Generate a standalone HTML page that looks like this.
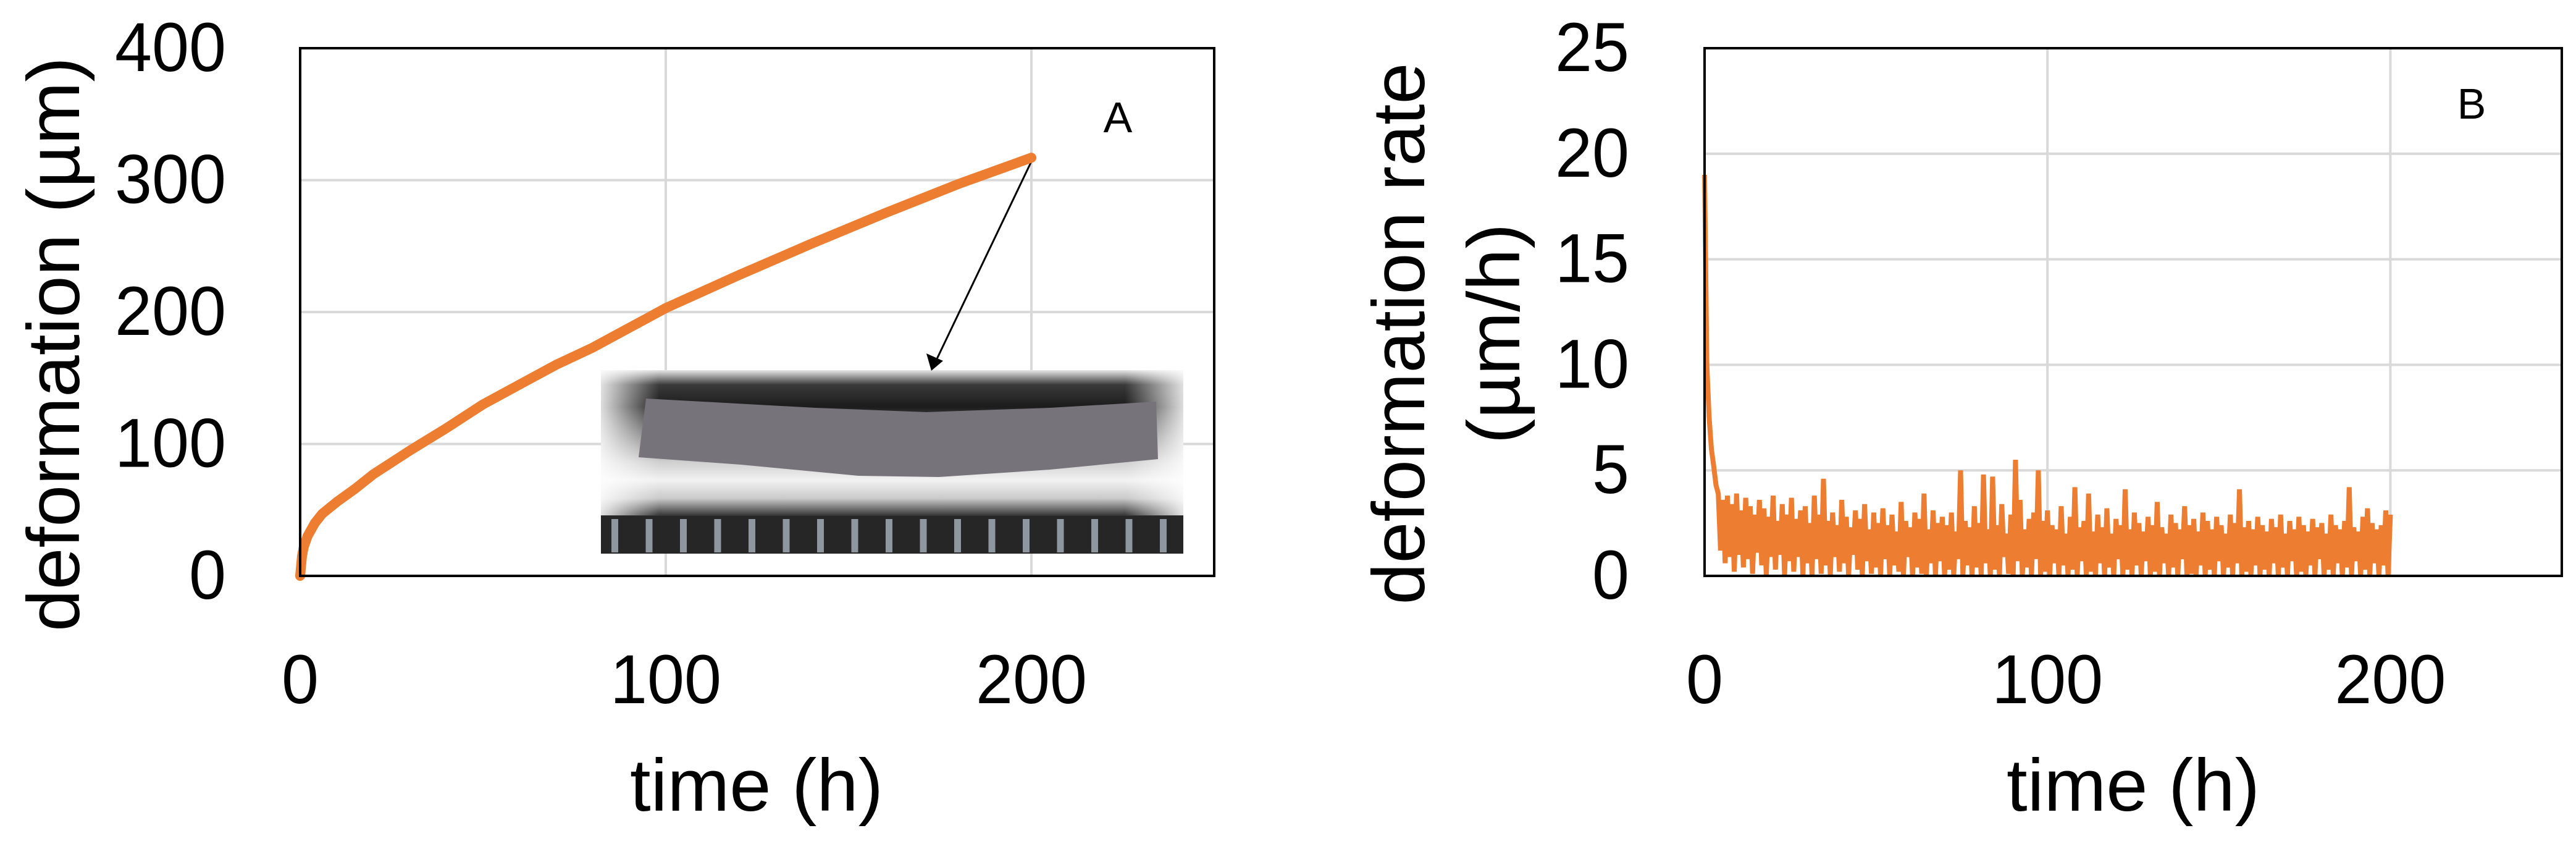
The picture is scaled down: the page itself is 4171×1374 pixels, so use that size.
<!DOCTYPE html>
<html><head><meta charset="utf-8">
<style>
html,body{margin:0;padding:0;background:#fff;}
svg{display:block;font-family:"Liberation Sans","DejaVu Sans",sans-serif;}
</style></head>
<body>
<svg id="fig" width="4171" height="1374" viewBox="0 0 4171 1374" xmlns="http://www.w3.org/2000/svg">
<defs>
<linearGradient id="bgv" x1="0" y1="0" x2="0" y2="1">
<stop offset="0" stop-color="#e6e6e6"/><stop offset="0.08" stop-color="#3a3a3a"/><stop offset="0.2" stop-color="#1c1c1c"/><stop offset="0.5" stop-color="#cfcfcf"/><stop offset="0.6" stop-color="#f2f2f2"/><stop offset="0.7" stop-color="#c9c9c9"/><stop offset="0.8" stop-color="#2a2a2a"/><stop offset="1" stop-color="#222"/>
</linearGradient>
<linearGradient id="bgh" x1="0" y1="0" x2="1" y2="0">
<stop offset="0" stop-color="#fff" stop-opacity="0.85"/><stop offset="0.1" stop-color="#fff" stop-opacity="0"/><stop offset="0.9" stop-color="#fff" stop-opacity="0"/><stop offset="1" stop-color="#fff" stop-opacity="0.85"/>
</linearGradient>
</defs>
<g id="chartA"></g>
<g id="chartB"></g>
</svg>
<script>
// ---- Chart A data ----
const timeA = [0,0.5,1,2,4,6,10,15,20,30,40,50,60,70,80,90,100,120,140,160,180,200];
const deformA = [0,15,22,30,40,47,56,66,77,95,112,130,145,160,173,188,203,228,252,275,297,317];
const yTicksA = [0,100,200,300,400];
const xTicksA = [0,100,200];
// ---- Chart B data (deformation rate, uniform time step over 0..200 h) ----
const rateB = [
19,10,7.5,6,5.2,4.3,3.9,1.2,3.6,0.6,3.8,0.9,3.4,0.2,3.9,1.0,3.1,0.4,3.7,0.8,
3.3,0.1,2.9,1.1,3.6,0.5,3.2,0.0,2.8,0.9,3.8,0.3,2.6,1.0,3.4,0.0,2.9,0.7,3.7,0.2,
2.7,0.9,3.1,0.0,3.3,0.6,2.5,0.0,3.8,0.8,2.9,0.1,4.6,0.5,2.6,0.0,3.0,0.9,2.4,0.2,
3.6,0.6,2.8,0.0,2.3,1.0,3.1,0.3,2.7,0.0,3.4,0.7,2.2,0.1,3.0,0.4,2.5,0.0,3.2,0.8,
2.4,0.0,2.9,0.5,2.1,0.2,3.5,0.0,2.6,0.9,2.3,0.0,3.0,0.4,2.7,0.1,3.9,0.0,2.2,0.6,
3.1,0.0,2.5,0.7,2.8,0.0,2.4,0.3,3.0,0.0,2.1,0.8,5.0,0.0,2.6,0.5,2.3,0.0,3.3,0.4,
2.5,0.0,4.8,0.6,2.2,0.0,4.7,0.3,2.4,0.0,3.4,0.9,2.0,0.1,2.9,0.0,5.5,0.7,3.6,0.0,
2.2,0.4,2.7,0.0,3.0,0.8,5.0,0.0,2.6,0.2,3.1,0.0,2.4,0.6,2.2,0.0,3.3,0.5,2.0,0.0,
2.8,0.3,4.2,0.0,2.3,0.7,2.6,0.0,3.9,0.2,2.1,0.0,2.9,0.6,2.3,0.0,3.2,0.4,2.0,0.0,
2.7,0.8,2.4,0.0,4.1,0.3,2.2,0.0,3.0,0.5,2.5,0.0,2.1,0.7,2.8,0.0,2.4,0.2,3.5,0.0,
2.3,0.6,2.0,0.0,2.9,0.4,2.5,0.0,2.2,0.8,3.3,0.0,2.4,0.1,2.7,0.0,2.1,0.5,3.0,0.0,
2.6,0.3,2.2,0.0,2.8,0.7,2.4,0.0,2.0,0.4,2.9,0.0,2.5,0.6,4.1,0.0,2.3,0.2,2.6,0.0,
2.2,0.5,2.8,0.0,2.4,0.3,2.1,0.0,2.7,0.6,2.3,0.0,2.9,0.4,2.0,0.0,2.6,0.7,2.2,0.0,
2.8,0.2,2.4,0.0,2.1,0.5,2.7,0.0,2.3,0.8,2.5,0.0,2.0,0.3,2.9,0.0,2.4,0.6,2.2,0.0,
2.6,0.4,4.2,0.0,2.3,0.7,2.1,0.0,2.8,0.3,3.2,0.0,2.5,0.6,2.2,0.0,2.4,0.5,3.1,0.0,
2.9];
const tEndB = 200;
const yTicksB = [0,5,10,15,20,25];
const xTicksB = [0,100,200];

const NS = "http://www.w3.org/2000/svg";
function mk(parent, tag, attrs, text){
  const e = document.createElementNS(NS, tag);
  for (const k in attrs) e.setAttribute(k, attrs[k]);
  if (text !== undefined) e.textContent = text;
  parent.appendChild(e);
  return e;
}
const plotTop = 78, plotBot = 932;
function tlen(s){ return s.length * 60; }

function frame(g, left, right, xmax, ymax, xTicks, yTicks, labelRight){
  const sx = v => left + (v / xmax) * (right - left);
  const sy = v => plotBot - (v / ymax) * (plotBot - plotTop);
  yTicks.forEach(v => {
    if (v > 0 && v < ymax) {
      const l = mk(g, 'line', {x1:left, x2:right, y1:sy(v), y2:sy(v), stroke:'#d9d9d9', 'stroke-width':4});
      
      
    }
    const s = String(v);
    const t = mk(g, 'text', {x:labelRight, y:sy(v)+37, 'text-anchor':'end', 'font-size':112, fill:'#000', textLength:tlen(s), lengthAdjust:'spacingAndGlyphs'}, s);
    
    
  });
  xTicks.forEach(v => {
    if (v > 0) {
      const l = mk(g, 'line', {x1:sx(v), x2:sx(v), y1:plotTop, y2:plotBot, stroke:'#d9d9d9', 'stroke-width':4});
      
      
    }
    const s = String(v);
    const t = mk(g, 'text', {x:sx(v), y:1138, 'text-anchor':'middle', 'font-size':112, fill:'#000', textLength:tlen(s), lengthAdjust:'spacingAndGlyphs'}, s);
    
    
  });
  return {sx, sy};
}
function border(g, left, right){
  const r = mk(g, 'rect', {x:left, y:plotTop, width:right-left, height:plotBot-plotTop, fill:'none', stroke:'#000', 'stroke-width':4});
  
  
}

// ---------- Chart A ----------
const gA = document.getElementById('chartA');
const A = frame(gA, 486, 1966, 250, 400, xTicksA, yTicksA, 366);
const inset = mk(gA, 'g', {});


mk(inset, 'rect', {x:973, y:599, width:943, height:297, fill:'url(#bgv)'});
mk(inset, 'rect', {x:973, y:599, width:943, height:235, fill:'url(#bgh)'});
mk(inset, 'rect', {x:973, y:835, width:943, height:61, fill:'#262626'});
for (let i = 0; i < 17; i++) {
  mk(inset, 'rect', {x:990 + i*55.5, y:840, width:11, height:54, fill:'#9aa3ad', opacity:0.9});
}
mk(inset, 'path', {d:'M1046 645 L1320 660 L1500 667 L1700 660 L1872 650 L1875 743 L1700 760 L1520 772 L1390 770 L1200 752 L1034 740 Z', fill:'#77737a'});
const arr = mk(gA, 'line', {x1:1673, y1:255, x2:1515, y2:585, stroke:'#000', 'stroke-width':3});


const ah = mk(gA, 'path', {d:'M1508 600 L1500 572 L1527 584 Z', fill:'#000'});


let dA = '';
timeA.forEach((t, i) => { dA += (i ? 'L' : 'M') + A.sx(t).toFixed(1) + ' ' + A.sy(deformA[i]).toFixed(1) + ' '; });
const lineA = mk(gA, 'path', {d:dA, fill:'none', stroke:'#ED7D31', 'stroke-width':16, 'stroke-linecap':'round', 'stroke-linejoin':'round'});


border(gA, 486, 1966);
const tA = mk(gA, 'text', {x:1810, y:214, 'text-anchor':'middle', 'font-size':70, fill:'#000'}, 'A');


const xtA = mk(gA, 'text', {x:1225, y:1312, 'text-anchor':'middle', 'font-size':120, fill:'#000', textLength:410, lengthAdjust:'spacingAndGlyphs'}, 'time (h)');


const ytA = mk(gA, 'text', {x:0, y:0, 'text-anchor':'middle', 'font-size':120, fill:'#000', textLength:930, lengthAdjust:'spacingAndGlyphs', transform:'translate(128 557) rotate(-90)'}, 'deformation (µm)');



// ---------- Chart B ----------
const gB = document.getElementById('chartB');
const B = frame(gB, 2760, 4148, 250, 25, xTicksB, yTicksB, 2638);
let dB = '';
const stepB = tEndB / (rateB.length - 1);
rateB.forEach((v, i) => { dB += (i ? 'L' : 'M') + B.sx(i*stepB).toFixed(1) + ' ' + B.sy(v).toFixed(1) + ' '; });
const lineB = mk(gB, 'path', {d:dB, fill:'none', stroke:'#ED7D31', 'stroke-width':8, 'stroke-linejoin':'miter'});


border(gB, 2760, 4148);
const tB = mk(gB, 'text', {x:4002, y:192, 'text-anchor':'middle', 'font-size':70, fill:'#000'}, 'B');


const xtB = mk(gB, 'text', {x:3454, y:1312, 'text-anchor':'middle', 'font-size':120, fill:'#000', textLength:410, lengthAdjust:'spacingAndGlyphs'}, 'time (h)');


const ytB1 = mk(gB, 'text', {x:0, y:0, 'text-anchor':'middle', 'font-size':120, fill:'#000', textLength:877, lengthAdjust:'spacingAndGlyphs', transform:'translate(2306 540) rotate(-90)'}, 'deformation rate');


const ytB2 = mk(gB, 'text', {x:0, y:0, 'text-anchor':'middle', 'font-size':120, fill:'#000', textLength:357, lengthAdjust:'spacingAndGlyphs', transform:'translate(2460 540) rotate(-90)'}, '(µm/h)');


</script>
</body></html>
